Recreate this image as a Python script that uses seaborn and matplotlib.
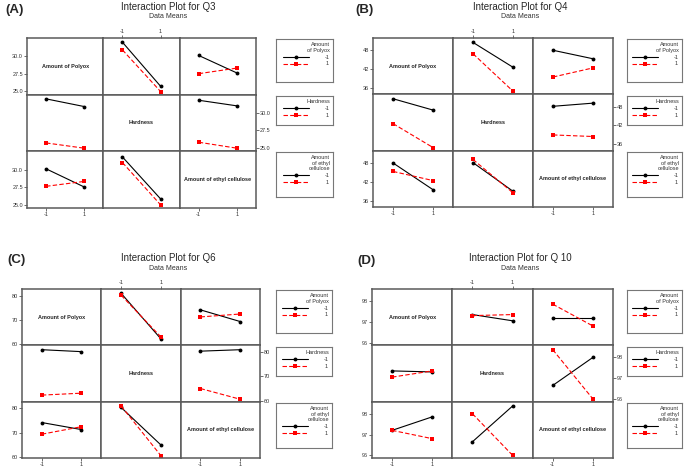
import matplotlib.pyplot as plt
import seaborn as sns
import pandas as pd

sns.set_style("white")
plt.rcParams['font.family'] = ['Liberation Sans', 'DejaVu Sans']

# factors, levels and legend titles
levels = [-1, 1]
factors = ['Amount of Polyox', 'Hardness', 'Amount of ethyl cellulose']
legend_titles = ['Amount\nof Polyox', 'Hardness', 'Amount\nof ethyl\ncellulose']

# 2x2 mean tables: [level of first factor][level of second factor]
# Q3
q3_polyox_hard = [[32.0, 25.7], [30.9, 24.95]]
q3_polyox_ethyl = [[30.1, 27.6], [27.5, 28.3]]
q3_hard_ethyl = [[31.8, 31.0], [25.8, 24.95]]
q3_yticks = [25.0, 27.5, 30.0]
q3_yticklabels = ['25.0', '27.5', '30.0']
# Q4
q4_polyox_hard = [[50.5, 42.6], [46.9, 35.0]]
q4_polyox_ethyl = [[48.0, 45.3], [39.5, 42.4]]
q4_hard_ethyl = [[48.1, 49.1], [39.0, 38.5]]
q4_yticks = [36, 42, 48]
q4_yticklabels = ['36', '42', '48']
# Q6
q6_polyox_hard = [[81.0, 62.3], [80.2, 63.1]]
q6_polyox_ethyl = [[74.2, 69.4], [71.3, 72.5]]
q6_hard_ethyl = [[80.4, 81.0], [65.0, 60.6]]
q6_yticks = [60, 70, 80]
q6_yticklabels = ['60', '70', '80']
# Q10
q10_polyox_hard = [[97.35, 97.05], [97.3, 97.35]]
q10_polyox_ethyl = [[97.2, 97.2], [97.85, 96.8]]
q10_hard_ethyl = [[96.65, 98.0], [98.37, 96.0]]
q10_yticks = [96, 97, 98]
q10_yticklabels = ['96', '97', '98']

titles = ['Interaction Plot for Q3', 'Interaction Plot for Q4',
          'Interaction Plot for Q6', 'Interaction Plot for Q 10']
tags = ['(A)', '(B)', '(C)', '(D)']

panels = [
    dict(tabs=(q3_polyox_hard, q3_polyox_ethyl, q3_hard_ethyl), yt=q3_yticks, ytl=q3_yticklabels,
         ylim=(24.5, 32.6), grid=(27, 38, 229, 170), leg=(276, 57), title=(168, 7), tag=(5, 10)),
    dict(tabs=(q4_polyox_hard, q4_polyox_ethyl, q4_hard_ethyl), yt=q4_yticks, ytl=q4_yticklabels,
         ylim=(34.0, 51.9), grid=(373, 38, 240, 169), leg=(627, 55), title=(520, 7), tag=(355, 10)),
    dict(tabs=(q6_polyox_hard, q6_polyox_ethyl, q6_hard_ethyl), yt=q6_yticks, ytl=q6_yticklabels,
         ylim=(59.6, 82.8), grid=(22, 289, 238, 169), leg=(276, 56), title=(168, 258), tag=(7, 260)),
    dict(tabs=(q10_polyox_hard, q10_polyox_ethyl, q10_hard_ethyl), yt=q10_yticks, ytl=q10_yticklabels,
         ylim=(95.87, 98.58), grid=(372, 289, 241, 169), leg=(627, 55), title=(520, 258), tag=(357, 261)),
]

W, H = 685, 470
edge = '#5a5a5a'
pal = {'-1': 'black', '1': '#ff0000'}
mk = {'-1': 'o', '1': 's'}
dsh = {'-1': '', '1': (4, 2)}


def cell_frame(tabs, i, j):
    # table of means with factor i as trace and factor j on x axis
    pair = {(0, 1): tabs[0], (0, 2): tabs[1], (1, 2): tabs[2]}
    if (i, j) in pair:
        t = pair[(i, j)]
        get = lambda a, b: t[a][b]
    else:
        t = pair[(j, i)]
        get = lambda a, b: t[b][a]
    rows = []
    for a, la in enumerate(levels):
        for b, lb in enumerate(levels):
            rows.append({'x': lb, 'trace': str(la), 'y': get(a, b)})
    return pd.DataFrame(rows)


def fig_rect(x, y, w, h):
    return [x / W, 1 - (y + h) / H, w / W, h / H]


fig = plt.figure(figsize=(6.85, 4.7), dpi=100)

for p, cfg in enumerate(panels):
    gx, gy, gw, gh = cfg['grid']
    cw, ch = gw / 3, gh / 3
    row_handles = {}
    for i in range(3):
        for j in range(3):
            ax = fig.add_axes(fig_rect(gx + j * cw, gy + i * ch, cw, ch))
            if i == j:
                ax.text(0.5, 0.5, factors[i], transform=ax.transAxes, ha='center', va='center',
                        fontsize=4, fontweight='bold')
            else:
                df = cell_frame(cfg['tabs'], i, j)
                sns.lineplot(data=df, x='x', y='y', hue='trace', style='trace', hue_order=['-1', '1'],
                             style_order=['-1', '1'], palette=pal, markers=mk, dashes=dsh,
                             errorbar=None, linewidth=0.8, markersize=2.8, markeredgewidth=0,
                             ax=ax, legend=True)
                h, l = ax.get_legend_handles_labels()
                row_handles[i] = (h, l)
                ax.get_legend().remove()
            ax.set_xlim(-2, 2)
            ax.set_ylim(cfg['ylim'])
            ax.set_xlabel('')
            ax.set_ylabel('')
            for s in ax.spines.values():
                s.set_color(edge)
                s.set_linewidth(1.1)
            ax.set_xticks(levels)
            ax.set_xticklabels(['-1', '1'])
            ax.set_yticks(cfg['yt'])
            ax.set_yticklabels(cfg['ytl'])
            ax.tick_params(length=2, width=0.5, labelsize=4, pad=1, colors='#333333',
                           bottom=False, top=False, left=False, right=False,
                           labelbottom=False, labeltop=False, labelleft=False, labelright=False)
            if i == 0 and j == 1:
                ax.tick_params(axis='x', top=True, labeltop=True)
            if i == 2 and j in (0, 2):
                ax.tick_params(axis='x', bottom=True, labelbottom=True)
            if j == 0 and i in (0, 2):
                ax.tick_params(axis='y', left=True, labelleft=True)
            if j == 2 and i == 1:
                ax.tick_params(axis='y', right=True, labelright=True)

    # legend boxes on the right of each row
    lx, lw = cfg['leg']
    leg_rows = [(1, 43), (58, 29), (114, 45)]
    for i in range(3):
        oy, lh = leg_rows[i]
        lax = fig.add_axes(fig_rect(lx, gy + oy, lw, lh))
        lax.set_xticks([])
        lax.set_yticks([])
        for s in lax.spines.values():
            s.set_color('#777777')
            s.set_linewidth(0.8)
        h, l = row_handles[i]
        lg = lax.legend(h, l, title=legend_titles[i], loc='upper right', frameon=False,
                        alignment='right', fontsize=4, title_fontsize=4, handlelength=4.6,
                        handletextpad=3.0, borderaxespad=0.2, labelspacing=0.35, borderpad=0.3)
        lg.get_title().set_multialignment('right')
        lg.get_title().set_color('#333333')
        for t in lg.get_texts():
            t.set_color('#333333')

    tx, ty = cfg['title']
    fig.text(tx / W, 1 - ty / H, titles[p], ha='center', va='center', fontsize=7)
    fig.text(tx / W, 1 - (ty + 10) / H, 'Data Means', ha='center', va='center', fontsize=5,
             color='#333333')
    ax_, ay_ = cfg['tag']
    fig.text(ax_ / W, 1 - ay_ / H, tags[p], ha='left', va='center', fontsize=9.5, fontweight='bold')

fig.savefig('out.png', dpi=100)
